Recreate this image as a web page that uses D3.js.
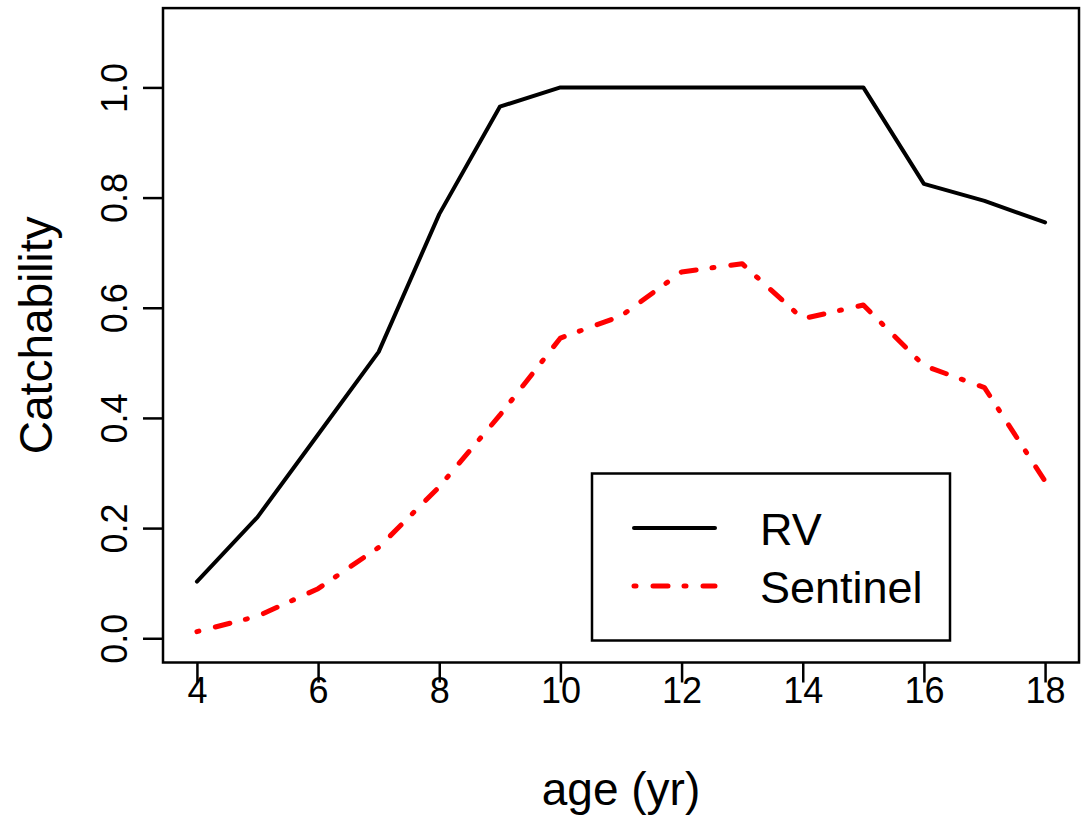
<!DOCTYPE html>
<html>
<head>
<meta charset="utf-8">
<script src="https://cdn.jsdelivr.net/npm/d3@7"></script>
<style>
body{margin:0;background:#fff;}
svg{display:block;}
text{font-family:"Liberation Sans",Arial,sans-serif;fill:#000;}
</style>
</head>
<body>
<svg></svg>
<script>
var ages = [4,5,6,7,8,9,10,11,12,13,14,15,16,17,18];
var rvValues = [0.103,0.22,0.37,0.52,0.77,0.965,1.0,1.0,1.0,1.0,1.0,1.0,0.825,0.794,0.755];
var sentinelValues = [0.012,0.04,0.09,0.165,0.275,0.405,0.545,0.585,0.665,0.68,0.58,0.605,0.495,0.455,0.285];
var xTicks = [4,6,8,10,12,14,16,18];
var yTicks = [0,0.2,0.4,0.6,0.8,1.0];
var seriesNames = ["RV","Sentinel"];

var screen = {width:1081,height:824};

var svg = d3.select("svg")
    .attr("width",screen.width)
    .attr("height",screen.height);

// R style 4% extension on both axes
var xScale = d3.scaleLinear()
    .domain([3.44,18.56])
    .range([163,1079]);

var yScale = d3.scaleLinear()
    .domain([-0.044,1.144])
    .range([662.5,8.1]);

var drawBox = function()
{
    svg.append("rect")
    .attr("x",xScale(3.44))
    .attr("y",yScale(1.144))
    .attr("width",xScale(18.56)-xScale(3.44))
    .attr("height",yScale(-0.044)-yScale(1.144))
    .attr("fill","none")
    .attr("stroke","#000")
    .attr("stroke-width",2.5);
}

var drawAxes = function()
{
    var xAxis = d3.axisBottom(xScale)
        .tickValues(xTicks)
        .tickSize(20)
        .tickPadding(6)
        .tickFormat(d3.format("d"));

    var gx = svg.append("g")
    .attr("transform","translate(0,"+yScale(-0.044)+")")
    .call(xAxis);
    gx.select(".domain").remove();
    gx.selectAll(".tick line").attr("stroke","#000").attr("stroke-width",2.5);
    gx.selectAll(".tick text")
    .attr("dy",null)
    .attr("y",40)
    .style("font-size","36px")
    .style("font-family","'Liberation Sans',Arial,sans-serif");

    var yAxis = d3.axisLeft(yScale)
        .tickValues(yTicks)
        .tickSize(20)
        .tickFormat(d3.format(".1f"));

    var gy = svg.append("g")
    .attr("transform","translate("+xScale(3.44)+",0)")
    .call(yAxis);
    gy.select(".domain").remove();
    gy.selectAll(".tick line").attr("stroke","#000").attr("stroke-width",2.5);
    gy.selectAll(".tick text")
    .attr("x",null)
    .attr("dy",null)
    .attr("text-anchor","middle")
    .attr("transform","translate(-36,0) rotate(-90)")
    .style("font-size","36px")
    .style("font-family","'Liberation Sans',Arial,sans-serif");
}

var drawLines = function()
{
    var line = function(vals)
    {
        return d3.line()
        .x(function(d,i){return xScale(ages[i]);})
        .y(function(d){return yScale(d);})(vals);
    }

    svg.append("path")
    .attr("d",line(rvValues))
    .attr("fill","none")
    .attr("stroke","#000")
    .attr("stroke-width",4)
    .attr("stroke-linejoin","round")
    .attr("stroke-linecap","round");

    svg.append("path")
    .attr("d",line(sentinelValues))
    .attr("fill","none")
    .attr("stroke","#ff0000")
    .attr("stroke-width",5)
    .attr("stroke-dasharray","2,17,15,16")
    .attr("stroke-linejoin","round")
    .attr("stroke-linecap","round");
}

var drawLabels = function()
{
    svg.append("text")
    .attr("x",(xScale(3.44)+xScale(18.56))/2)
    .attr("y",805)
    .attr("text-anchor","middle")
    .style("font-size","46px")
    .text("age (yr)");

    var midY = (yScale(-0.044)+yScale(1.144))/2;
    svg.append("text")
    .attr("transform","translate(52,"+midY+") rotate(-90)")
    .attr("text-anchor","middle")
    .style("font-size","46px")
    .text("Catchability");
}

var drawLegend = function()
{
    var legend = svg.append("g");
    legend.append("rect")
    .attr("x",592)
    .attr("y",473.5)
    .attr("width",358)
    .attr("height",167)
    .attr("fill","#fff")
    .attr("stroke","#000")
    .attr("stroke-width",2.5);

    var styles = [
        {color:"#000",width:4,dash:null},
        {color:"#ff0000",width:5,dash:"2,17,15,16"}
    ];

    seriesNames.forEach(function(name,i)
    {
        var ly = 528+i*58;
        legend.append("line")
        .attr("x1",634)
        .attr("x2",715)
        .attr("y1",ly)
        .attr("y2",ly)
        .attr("stroke",styles[i].color)
        .attr("stroke-width",styles[i].width)
        .attr("stroke-linecap","round")
        .attr("stroke-dasharray",styles[i].dash);

        legend.append("text")
        .attr("x",760)
        .attr("y",ly+16.5)
        .style("font-size","45px")
        .text(name);
    });
}

drawBox();
drawAxes();
drawLines();
drawLabels();
drawLegend();
</script>
</body>
</html>
